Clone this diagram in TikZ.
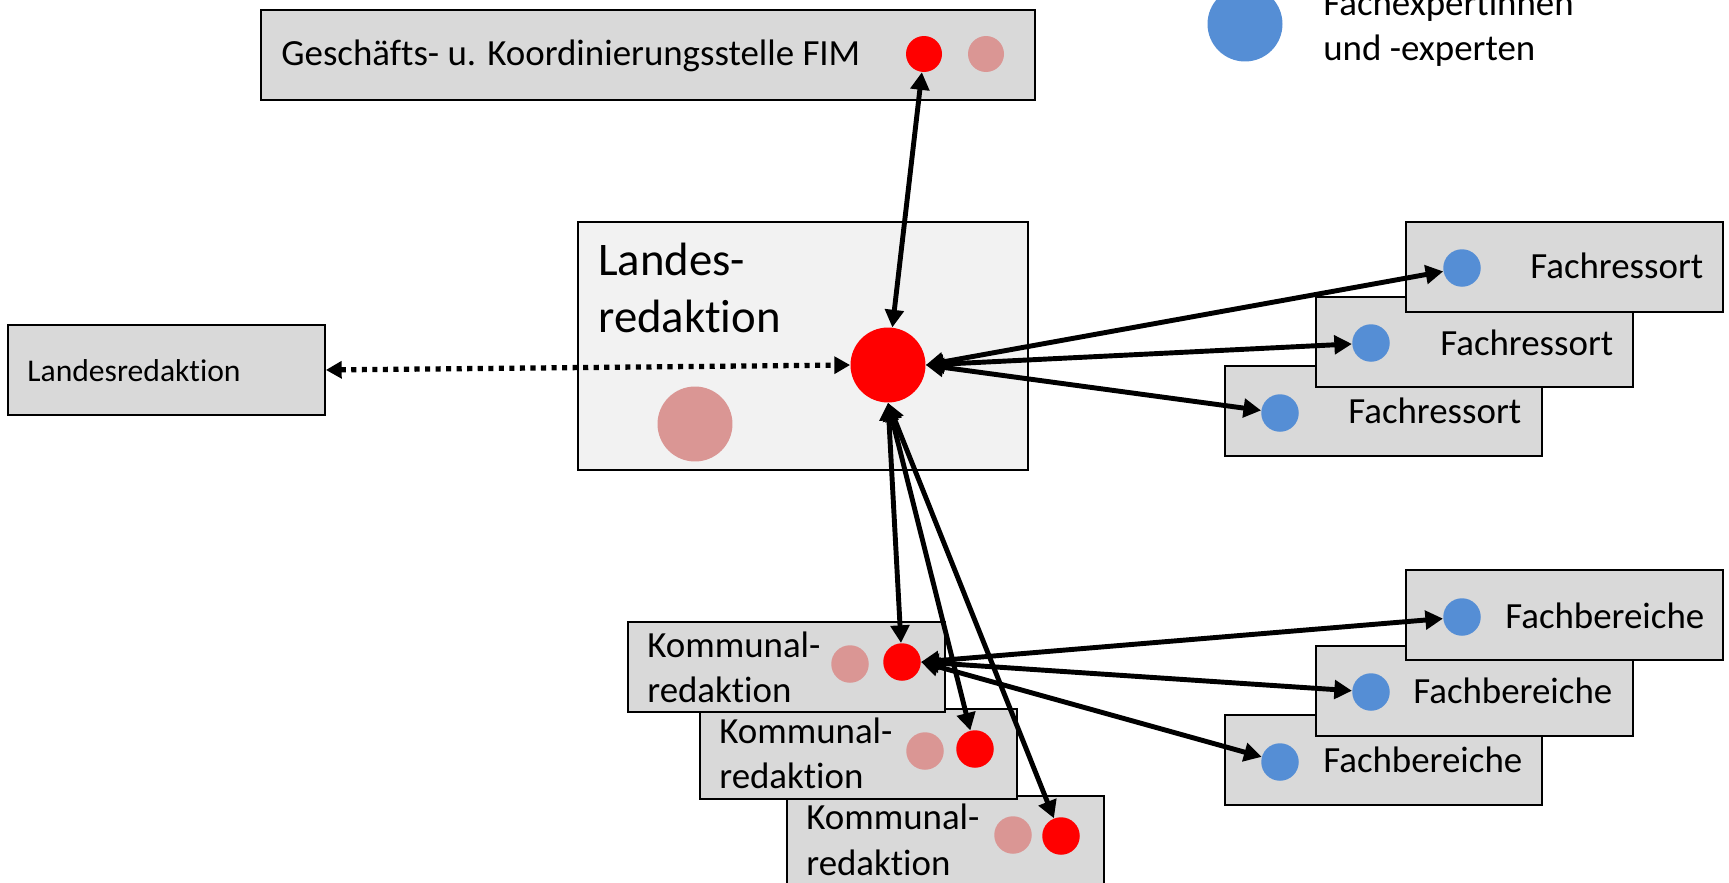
\documentclass[tikz,border=0pt]{standalone}
\usepackage{fontspec}
\setmainfont{Carlito}[Ligatures={NoCommon,NoContextual}]
\usetikzlibrary{arrows.meta}
\definecolor{boxgray}{HTML}{D9D9D9}
\definecolor{panel}{HTML}{F2F2F2}
\definecolor{rosy}{HTML}{DA9694}
\definecolor{expert}{HTML}{558ED5}
\begin{document}
\begin{tikzpicture}[x=0.02cm,y=-0.02cm,
  unitbox/.style={draw=black, line width=1.1pt, fill=boxgray, anchor=north west,
    minimum width=6.34cm, minimum height=1.8cm, inner sep=0},
  lbl/.style={anchor=base west, inner sep=0, font=\fontsize{21}{25}\selectfont},
  dot/.style={circle, inner sep=0, minimum size=0.75cm},
  reddot/.style={dot, fill=red},
  rosydot/.style={dot, fill=rosy},
  bluedot/.style={dot, fill=expert},
  link/.style={line width=2.8pt, {Triangle[length=10pt,width=10.5pt]}-{Triangle[length=10pt,width=10.5pt]}},
  dotlink/.style={line width=3pt, dash pattern=on 2.9pt off 3.1pt,
    {Triangle[length=9pt,width=9.5pt]}-{Triangle[length=9pt,width=9.5pt]}},
]
\clip (0,0) rectangle (1729,883);
\fill[white] (0,0) rectangle (1729,883);

% legend
\node[dot, fill=expert, minimum size=1.5cm] (legdot) at (1245,24) {};
\node[lbl] (legA) at (1323,15) {Fachexpertinnen};
\node[lbl] (legB) at (1323,60) {und -experten};

% coordination office
\node[unitbox, minimum width=15.48cm] (fim) at (260,9) {};
\node[lbl] (fimtxt) at (281,65) {Geschäfts- u. Koordinierungsstelle FIM};
\node[reddot, minimum size=0.72cm] (fimred) at (924,54) {};
\node[rosydot, minimum size=0.72cm] (fimrosy) at (986,54) {};

% other state office
\node[unitbox] (lbox) at (7,324) {};
\node[lbl, font=\fontsize{18}{22}\selectfont] (lboxtxt) at (27,381) {Landesredaktion};

% state editorial office
\node[draw=black, line width=1.1pt, fill=panel, anchor=north west, inner sep=0,
  minimum width=9cm, minimum height=4.96cm] (land) at (577,221) {};
\node[lbl, font=\fontsize{26.6}{32}\selectfont] (landA) at (598,275) {Landes-};
\node[lbl, font=\fontsize{26.6}{32}\selectfont] (landB) at (598,332) {redaktion};
\node[reddot, minimum size=1.5cm] (bigred) at (888,365) {};
\node[rosydot, minimum size=1.5cm] (bigrosy) at (695,424) {};

% departments
\node[unitbox] (fr3) at (1224,365) {};
\node[unitbox] (fr2) at (1315,296) {};
\node[unitbox] (fr1) at (1405,221) {};
\node[bluedot] (fr1dot) at (1462,268) {};
\node[bluedot] (fr2dot) at (1371,343) {};
\node[bluedot] (fr3dot) at (1280,413) {};
\node[lbl] (fr1txt) at (1530,278) {Fachressort};
\node[lbl] (fr2txt) at (1440,355) {Fachressort};
\node[lbl] (fr3txt) at (1348,423) {Fachressort};

% specialist units
\node[unitbox] (fb3) at (1224,714) {};
\node[unitbox] (fb2) at (1315,645) {};
\node[unitbox] (fb1) at (1405,569) {};
\node[bluedot] (fb1dot) at (1462,617) {};
\node[bluedot] (fb2dot) at (1371,692) {};
\node[bluedot] (fb3dot) at (1280,762) {};
\node[lbl] (fb1txt) at (1505,628) {Fachbereiche};
\node[lbl] (fb2txt) at (1413,703) {Fachbereiche};
\node[lbl] (fb3txt) at (1323,772) {Fachbereiche};

% municipal editorial offices
\node[unitbox] (kr3) at (786,795) {};
\node[unitbox] (kr2) at (699,708) {};
\node[unitbox] (kr1) at (627,621) {};
\node[lbl] (kr1a) at (647,657) {Kommunal-};
\node[lbl] (kr1b) at (647,702) {redaktion};
\node[lbl] (kr2a) at (719,743) {Kommunal-};
\node[lbl] (kr2b) at (719,788) {redaktion};
\node[lbl] (kr3a) at (806,829) {Kommunal-};
\node[lbl] (kr3b) at (806,875) {redaktion};
\node[rosydot] (kr1rosy) at (850,664) {};
\node[reddot] (kr1red) at (902,662) {};
\node[rosydot] (kr2rosy) at (925,751) {};
\node[reddot] (kr2red) at (975,749) {};
\node[rosydot] (kr3rosy) at (1013,835) {};
\node[reddot] (kr3red) at (1061,836) {};

% connections
\draw[dotlink] (lbox.east) -- (bigred.west);
\draw[link] (fimred) -- (bigred);
\draw[link] (bigred.east) -- (fr1dot);
\draw[link] (bigred.east) -- (fr2dot);
\draw[link] (bigred.east) -- (fr3dot);
\draw[link] (bigred.south) -- (kr1red);
\draw[link] (bigred.south) -- (kr2red);
\draw[link] (bigred.south) -- (kr3red);
\draw[link] (kr1red.east) -- (fb1dot);
\draw[link] (kr1red.east) -- (fb2dot);
\draw[link] (kr1red.east) -- (fb3dot);
\end{tikzpicture}
\end{document}
